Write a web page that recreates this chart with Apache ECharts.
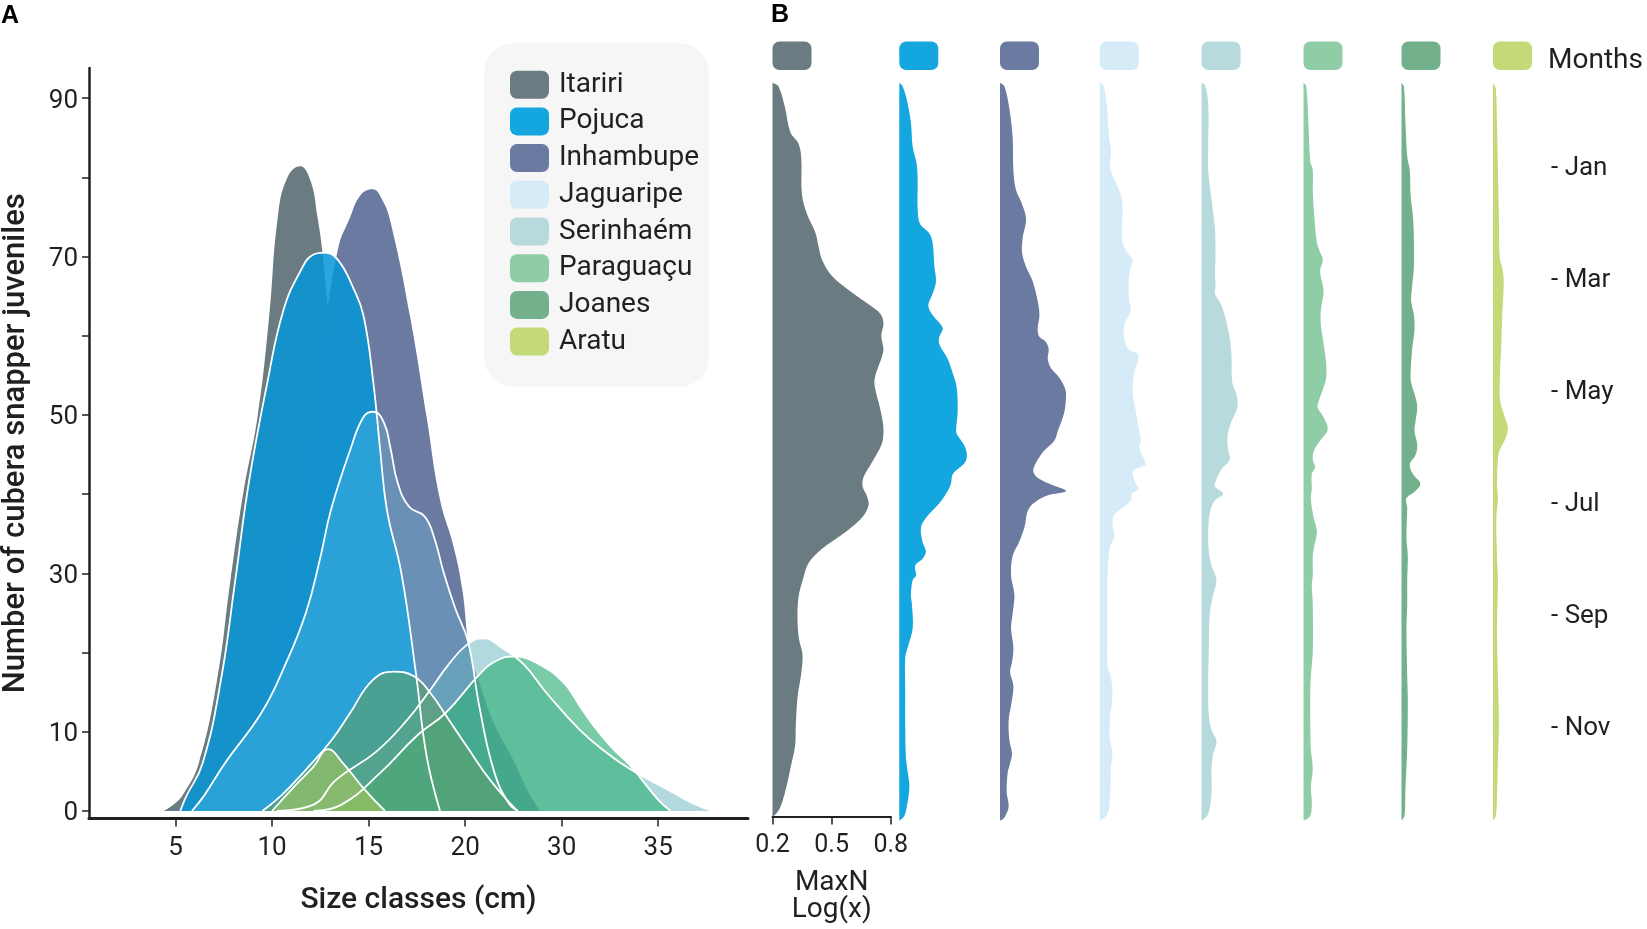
<!DOCTYPE html>
<html>
<head>
<meta charset="utf-8">
<script src="https://cdn.jsdelivr.net/npm/echarts@6/dist/echarts.min.js"></script>
<style>
  html, body { margin: 0; padding: 0; background: #fff; }
  #chart { width: 1647px; height: 929px; }
</style>
</head>
<body>
<div id="chart"></div>
<script>
// ---- data ----
const sites = ['Itariri', 'Pojuca', 'Inhambupe', 'Jaguaripe', 'Serinhaém', 'Paraguaçu', 'Joanes', 'Aratu'];
const siteColors = ['#6b7b82', '#14a6df', '#6b7aa0', '#d5ebf8', '#b7dadd', '#8ecda5', '#73b08c', '#c4d977'];

// panel A: size classes (position index on the axis) vs number of juveniles
const sizeTicks = ['5', '10', '15', '20', '30', '35'];
const sizePos = [1, 2, 3, 4, 5, 6];
const countLabels = [0, 10, 30, 50, 70, 90];
const countTicks = [0, 10, 20, 30, 40, 50, 60, 70, 80, 90];

const itariri = [[0.88, 0], [1.0, 1.0], [1.09, 2.3], [1.24, 6], [1.43, 16.5], [1.57, 29.2], [1.7, 40], [1.85, 49.8], [1.97, 62.4], [2.06, 75], [2.16, 80], [2.29, 81.4], [2.4, 79.5], [2.47, 75], [2.52, 70.8], [2.57, 64.5], [2.68, 50], [2.85, 32], [3.05, 16], [3.3, 5], [3.6, 0]];
const inhambupe = [[0.9, 0], [1.2, 1], [1.5, 3], [1.75, 8], [2.0, 20.7], [2.3, 41], [2.5, 57], [2.68, 70.8], [2.81, 75], [2.92, 77.8], [3.04, 78.5], [3.14, 77.2], [3.23, 74.2], [3.43, 62.4], [3.6, 49.8], [3.74, 39.3], [3.88, 33.4], [3.97, 28], [4.05, 20], [4.16, 15.7], [4.3, 11], [4.5, 6.4], [4.65, 2.5], [4.78, 0]];
const pojuca = [[1.05, 0], [1.11, 1.8], [1.28, 6], [1.47, 16.5], [1.62, 29.2], [1.76, 41.5], [1.95, 54], [2.12, 63.3], [2.3, 68.3], [2.42, 70.2], [2.54, 70.5], [2.68, 69.6], [2.85, 65.8], [2.95, 62.4], [3.05, 54], [3.12, 45.6], [3.19, 38], [3.34, 30], [3.49, 17.4], [3.6, 7], [3.74, 0]];
const jaguaripe = [[1.17, 0], [1.3, 2], [1.51, 6], [1.89, 12.4], [2.12, 18], [2.35, 25], [2.5, 32], [2.61, 38], [2.81, 45.6], [2.95, 49.8], [3.05, 50.4], [3.16, 49], [3.23, 45.6], [3.3, 41.5], [3.42, 38.4], [3.58, 37.2], [3.68, 34.5], [3.78, 30], [3.9, 25.5], [4.03, 21.4], [4.15, 13], [4.3, 5], [4.45, 1], [4.55, 0]];
const serinhaem = [[2.05, 0], [2.43, 0.8], [2.66, 3.9], [3.08, 7.5], [3.4, 11.5], [3.64, 15.3], [3.81, 18.2], [4.02, 21], [4.19, 21.8], [4.37, 20.7], [4.6, 18.6], [4.85, 14.8], [5.19, 10.2], [5.45, 7.5], [5.72, 5.2], [6.1, 2.7], [6.35, 1], [6.56, 0]];
const paraguacu = [[2.43, 0], [2.72, 0.8], [3.12, 4.8], [3.5, 9.5], [3.8, 12.4], [4.16, 17.4], [4.33, 19], [4.5, 19.5], [4.74, 18.7], [5.02, 16.2], [5.19, 13.2], [5.34, 10.6], [5.52, 8], [5.72, 5.6], [6.0, 1.4], [6.13, 0]];
const joanes = [[1.9, 0], [2.1, 2], [2.35, 5.2], [2.62, 9], [2.81, 12.4], [3.04, 16.5], [3.26, 17.6], [3.47, 17], [3.64, 14.9], [3.81, 11.9], [4.02, 8.1], [4.26, 3.9], [4.54, 0]];
const aratu = [[2.0, 0], [2.2, 2.7], [2.43, 5.6], [2.58, 7.8], [2.73, 6.1], [2.96, 2.7], [3.17, 0]];

// panel B: [month, MaxN log(x)] profile of each site
const monthTicks = [1, 3, 5, 7, 9, 11];
const monthNames = ['Jan', 'Mar', 'May', 'Jul', 'Sep', 'Nov'];
const maxnTicks = [0.2, 0.5, 0.8];

const vItariri = [[-0.47, 0.2], [-0.41, 0.23], [-0.02, 0.264], [0.41, 0.29], [0.62, 0.332], [0.88, 0.346], [1.52, 0.349], [1.87, 0.374], [2.21, 0.417], [2.47, 0.434], [2.69, 0.45], [2.99, 0.501], [3.29, 0.603], [3.5, 0.687], [3.67, 0.747], [3.85, 0.763], [4.06, 0.752], [4.32, 0.763], [4.79, 0.721], [4.96, 0.718], [5.39, 0.747], [5.74, 0.763], [6.0, 0.755], [6.34, 0.704], [6.6, 0.662], [6.77, 0.657], [6.94, 0.679], [7.11, 0.687], [7.33, 0.653], [7.59, 0.569], [7.89, 0.45], [8.14, 0.383], [8.4, 0.357], [8.75, 0.332], [9.18, 0.327], [9.52, 0.335], [9.78, 0.352], [10.12, 0.346], [10.55, 0.327], [11.07, 0.318], [11.41, 0.315], [11.76, 0.295], [12.19, 0.268], [12.53, 0.239], [12.66, 0.214], [12.69, 0.2]];
const vPojuca = [[-0.47, 0.2], [-0.41, 0.217], [-0.11, 0.242], [0.24, 0.259], [0.67, 0.268], [0.97, 0.288], [1.27, 0.293], [1.78, 0.293], [2.04, 0.305], [2.21, 0.352], [2.38, 0.369], [2.81, 0.378], [3.07, 0.386], [3.29, 0.369], [3.5, 0.347], [3.67, 0.369], [3.85, 0.412], [3.93, 0.42], [4.06, 0.403], [4.19, 0.403], [4.45, 0.445], [4.71, 0.471], [4.96, 0.491], [5.39, 0.496], [5.74, 0.488], [5.82, 0.496], [6.0, 0.53], [6.17, 0.543], [6.3, 0.533], [6.51, 0.471], [6.68, 0.462], [6.86, 0.437], [7.03, 0.403], [7.29, 0.335], [7.46, 0.31], [7.72, 0.318], [7.89, 0.335], [8.02, 0.318], [8.14, 0.281], [8.32, 0.285], [8.4, 0.268], [8.66, 0.259], [8.83, 0.264], [9.26, 0.268], [9.61, 0.242], [9.78, 0.23], [10.38, 0.23], [10.98, 0.23], [11.58, 0.234], [11.93, 0.247], [12.1, 0.251], [12.36, 0.242], [12.61, 0.225], [12.69, 0.2]];
const vInhambupe = [[-0.47, 0.2], [-0.41, 0.222], [-0.02, 0.247], [0.49, 0.264], [1.09, 0.268], [1.44, 0.281], [1.65, 0.307], [1.95, 0.332], [2.3, 0.315], [2.56, 0.312], [2.81, 0.332], [3.07, 0.366], [3.42, 0.391], [3.67, 0.4], [3.93, 0.391], [4.06, 0.4], [4.15, 0.433], [4.28, 0.447], [4.45, 0.442], [4.62, 0.459], [4.79, 0.501], [5.05, 0.535], [5.39, 0.527], [5.74, 0.493], [5.91, 0.476], [6.12, 0.417], [6.42, 0.369], [6.55, 0.383], [6.68, 0.45], [6.81, 0.535], [6.9, 0.433], [7.11, 0.349], [7.46, 0.324], [7.71, 0.298], [7.97, 0.264], [8.32, 0.256], [8.66, 0.273], [9.0, 0.264], [9.26, 0.256], [9.61, 0.268], [9.86, 0.261], [10.04, 0.251], [10.29, 0.268], [10.64, 0.256], [10.9, 0.244], [11.24, 0.247], [11.5, 0.261], [11.67, 0.251], [11.84, 0.239], [12.19, 0.234], [12.44, 0.244], [12.64, 0.222], [12.69, 0.2]];
const vJaguaripe = [[-0.47, 0.2], [-0.44, 0.217], [-0.11, 0.234], [0.49, 0.247], [0.75, 0.256], [1.01, 0.251], [1.18, 0.264], [1.44, 0.298], [1.7, 0.315], [2.13, 0.312], [2.38, 0.315], [2.56, 0.34], [2.69, 0.366], [2.81, 0.357], [3.07, 0.346], [3.42, 0.349], [3.59, 0.357], [3.85, 0.324], [4.1, 0.324], [4.28, 0.346], [4.36, 0.391], [4.45, 0.396], [4.71, 0.374], [5.05, 0.366], [5.39, 0.383], [5.74, 0.4], [5.91, 0.408], [6.04, 0.4], [6.25, 0.425], [6.34, 0.433], [6.42, 0.379], [6.51, 0.366], [6.68, 0.383], [6.77, 0.396], [6.86, 0.362], [6.98, 0.357], [7.11, 0.315], [7.24, 0.273], [7.37, 0.264], [7.63, 0.273], [7.76, 0.256], [7.89, 0.247], [8.4, 0.239], [9.26, 0.239], [9.95, 0.239], [10.12, 0.256], [10.47, 0.264], [10.9, 0.251], [11.24, 0.251], [11.5, 0.264], [11.76, 0.256], [12.27, 0.252], [12.57, 0.239], [12.69, 0.2]];
const vSerinhaem = [[-0.47, 0.2], [-0.44, 0.217], [-0.11, 0.234], [0.67, 0.234], [1.09, 0.234], [1.61, 0.251], [2.13, 0.268], [2.64, 0.271], [2.9, 0.268], [3.16, 0.271], [3.29, 0.268], [3.5, 0.302], [3.93, 0.335], [4.36, 0.352], [4.88, 0.356], [5.09, 0.378], [5.31, 0.383], [5.57, 0.352], [5.82, 0.332], [6.08, 0.335], [6.25, 0.344], [6.42, 0.302], [6.6, 0.276], [6.73, 0.268], [6.86, 0.31], [6.98, 0.268], [7.2, 0.242], [7.54, 0.234], [7.89, 0.237], [8.14, 0.251], [8.4, 0.276], [8.66, 0.259], [9.0, 0.242], [9.69, 0.237], [10.21, 0.234], [10.81, 0.237], [11.07, 0.251], [11.28, 0.276], [11.5, 0.259], [11.76, 0.251], [12.19, 0.251], [12.57, 0.234], [12.69, 0.2]];
const vParaguacu = [[-0.47, 0.2], [-0.41, 0.214], [0.24, 0.225], [0.92, 0.234], [1.09, 0.247], [1.44, 0.247], [1.87, 0.254], [2.38, 0.268], [2.56, 0.285], [2.69, 0.298], [2.86, 0.285], [2.99, 0.288], [3.24, 0.302], [3.59, 0.288], [3.85, 0.288], [4.19, 0.302], [4.53, 0.315], [4.79, 0.315], [4.96, 0.302], [5.22, 0.276], [5.31, 0.271], [5.44, 0.293], [5.65, 0.322], [5.74, 0.322], [5.91, 0.285], [6.08, 0.254], [6.25, 0.247], [6.38, 0.259], [6.51, 0.242], [6.77, 0.242], [6.94, 0.237], [7.28, 0.251], [7.54, 0.268], [7.8, 0.254], [7.97, 0.247], [8.32, 0.247], [8.49, 0.242], [8.83, 0.247], [9.69, 0.247], [10.12, 0.237], [10.55, 0.234], [11.41, 0.237], [11.76, 0.247], [12.1, 0.237], [12.36, 0.242], [12.61, 0.234], [12.69, 0.2]];
const vJoanes = [[-0.47, 0.2], [-0.41, 0.212], [0.24, 0.22], [0.84, 0.229], [1.09, 0.242], [1.52, 0.246], [1.95, 0.259], [2.38, 0.263], [2.81, 0.263], [3.16, 0.254], [3.42, 0.249], [3.67, 0.263], [3.93, 0.266], [4.28, 0.254], [4.71, 0.246], [4.88, 0.249], [5.14, 0.271], [5.31, 0.28], [5.57, 0.271], [5.74, 0.266], [5.99, 0.28], [6.17, 0.271], [6.34, 0.242], [6.51, 0.259], [6.68, 0.296], [6.81, 0.271], [6.94, 0.225], [7.11, 0.229], [7.63, 0.225], [7.97, 0.232], [8.4, 0.229], [8.83, 0.229], [9.26, 0.225], [10.12, 0.229], [10.55, 0.232], [11.41, 0.229], [12.1, 0.22], [12.61, 0.215], [12.69, 0.2]];
const vAratu = [[-0.47, 0.2], [-0.37, 0.214], [0.24, 0.22], [1.09, 0.225], [1.95, 0.23], [2.64, 0.234], [2.9, 0.251], [3.16, 0.254], [3.67, 0.247], [4.19, 0.242], [4.88, 0.234], [5.22, 0.237], [5.48, 0.259], [5.69, 0.276], [5.87, 0.264], [6.08, 0.234], [6.25, 0.225], [6.68, 0.22], [6.94, 0.225], [7.28, 0.217], [7.97, 0.22], [8.4, 0.225], [9.26, 0.22], [10.12, 0.225], [10.98, 0.23], [11.58, 0.225], [12.27, 0.22], [12.61, 0.214], [12.69, 0.2]];

const violinData = [vItariri, vPojuca, vInhambupe, vJaguaripe, vSerinhaem, vParaguacu, vJoanes, vAratu];

// ---- layout / style ----
const FONT = 'Roboto';
const INK = '#231f20';
// draw order for panel A (back to front), with fills that let lower curves show through
const densityLayers = [
    { site: 'Itariri', data: itariri, fill: 'rgba(107,123,130,1)', outline: false },
    { site: 'Inhambupe', data: inhambupe, fill: 'rgba(107,122,160,1)', outline: false },
    { site: 'Pojuca', data: pojuca, fill: 'rgba(5,150,214,0.85)', outline: true },
    { site: 'Jaguaripe', data: jaguaripe, fill: 'rgba(110,208,248,0.26)', outline: true },
    { site: 'Serinhaém', data: serinhaem, fill: 'rgba(100,180,190,0.5)', outline: true },
    { site: 'Paraguaçu', data: paraguacu, fill: 'rgba(50,175,120,0.65)', outline: true },
    { site: 'Joanes', data: joanes, fill: 'rgba(90,160,110,0.65)', outline: true },
    { site: 'Aratu', data: aratu, fill: 'rgba(170,200,90,0.6)', outline: true }
];
const violinLeft = [772.5, 899.3, 1000, 1099.8, 1201.5, 1303.5, 1401.5, 1493];
const violinWidth = 118.3;
const violinTop = 83;
const violinHeight = 737.5;
const monthMin = -0.47, monthMax = 12.69;

const chart = echarts.init(document.getElementById('chart'));

const grids = [{ left: 88, top: 68, width: 660, height: 750.5 }];
const xAxes = [{
    type: 'value', gridIndex: 0, min: 0.104, max: 6.93,
    axisLine: { onZero: false, lineStyle: { color: INK, width: 3 } },
    axisTick: { customValues: sizePos, length: 8, lineStyle: { color: INK, width: 1.5 } },
    axisLabel: {
        customValues: sizePos, margin: 17, fontSize: 26, fontFamily: FONT, color: INK,
        formatter: v => sizeTicks[sizePos.indexOf(v)]
    },
    splitLine: { show: false },
    name: 'Size classes (cm)', nameLocation: 'middle', nameGap: 67,
    nameTextStyle: { fontSize: 30, fontWeight: 500, fontFamily: FONT, color: INK }
}];
const yAxes = [{
    type: 'value', gridIndex: 0, min: -0.95, max: 93.8,
    axisLine: { show: true, onZero: false, lineStyle: { color: INK, width: 2.5 } },
    axisTick: { show: true, customValues: countTicks, length: 7, lineStyle: { color: INK, width: 1.5 } },
    axisLabel: {
        customValues: countLabels, margin: 11, fontSize: 26, fontFamily: FONT, color: INK,
        verticalAlign: 'top', lineHeight: 6
    },
    splitLine: { show: false },
    name: 'Number of cubera snapper juveniles', nameLocation: 'middle', nameGap: 57,
    nameTextStyle: { fontSize: 31, fontWeight: 500, fontFamily: FONT, color: INK }
}];

violinLeft.forEach((left, k) => {
    grids.push({ left: left, top: violinTop, width: violinWidth, height: violinHeight });
    const first = k === 0;
    xAxes.push({
        type: 'value', gridIndex: k + 1, min: 0.2, max: 0.8, show: first,
        axisLine: { onZero: false, lineStyle: { color: INK, width: 2 } },
        axisTick: { customValues: maxnTicks, length: 8, lineStyle: { color: INK, width: 1.5 } },
        axisLabel: { customValues: maxnTicks, margin: 17, fontSize: 25, fontFamily: FONT, color: INK },
        splitLine: { show: false },
        name: first ? 'MaxN\nLog(x)' : '', nameLocation: 'middle', nameGap: 53,
        nameTextStyle: { fontSize: 28, lineHeight: 27, fontFamily: FONT, color: INK }
    });
    yAxes.push({
        type: 'value', gridIndex: k + 1, min: monthMin, max: monthMax, inverse: true, show: false
    });
});

// month labels on the right
grids.push({ left: 1551, top: violinTop, width: 20, height: violinHeight });
xAxes.push({ type: 'value', gridIndex: 9, show: false });
yAxes.push({
    type: 'value', gridIndex: 9, min: monthMin, max: monthMax, inverse: true,
    axisLine: { show: false }, axisTick: { show: false }, splitLine: { show: false },
    axisLabel: {
        inside: true, margin: 0, customValues: monthTicks, fontSize: 26, fontFamily: FONT, color: INK,
        verticalAlign: 'top', lineHeight: 6,
        formatter: v => '- ' + monthNames[monthTicks.indexOf(v)]
    }
});

const densitySeries = densityLayers.map(layer => ({
    name: layer.site,
    type: 'line',
    xAxisIndex: 0, yAxisIndex: 0,
    data: layer.data,
    smooth: 0.45,
    showSymbol: false,
    silent: true,
    itemStyle: { color: siteColors[sites.indexOf(layer.site)] },
    lineStyle: { color: '#ffffff', width: layer.outline ? 1.8 : 0, opacity: layer.outline ? 1 : 0 },
    areaStyle: { color: layer.fill, opacity: 1, origin: 'auto' }
}));

const violinSeries = violinData.map((pts, k) => ({
    type: 'custom',
    xAxisIndex: k + 1, yAxisIndex: k + 1,
    data: pts,
    encode: { x: 1, y: 0 },
    silent: true,
    renderItem: function (params, api) {
        if (params.dataIndex !== 0) return null;
        const poly = pts.map(p => api.coord([p[1], p[0]]));
        // straight baseline back to the top
        for (let m = 12.4; m > -0.4; m -= 0.4) poly.push(api.coord([0.2, m]));
        const lo = [Infinity, Infinity], hi = [-Infinity, -Infinity];
        poly.forEach(p => {
            lo[0] = Math.min(lo[0], p[0]); lo[1] = Math.min(lo[1], p[1]);
            hi[0] = Math.max(hi[0], p[0]); hi[1] = Math.max(hi[1], p[1]);
        });
        return {
            type: 'polygon',
            shape: { points: poly, smooth: 0.35, smoothConstraint: [lo, hi] },
            style: { fill: siteColors[k] }
        };
    }
}));

const headerKeys = violinLeft.map((left, k) => ({
    type: 'rect', left: left, top: 41.5, silent: true,
    shape: { width: 39, height: 28.5, r: 7 },
    style: { fill: siteColors[k] }
}));

chart.setOption({
    backgroundColor: '#ffffff',
    animation: false,
    grid: grids,
    xAxis: xAxes,
    yAxis: yAxes,
    legend: {
        orient: 'vertical', left: 510, top: 70.7, padding: 0,
        itemWidth: 39, itemHeight: 28, itemGap: 8.7, icon: 'roundRect',
        selectedMode: false,
        itemStyle: { borderWidth: 0 },
        textStyle: { fontSize: 28, fontFamily: FONT, color: INK, padding: [4, 0, 0, 5] },
        data: sites.map((s, k) => ({ name: s, itemStyle: { color: siteColors[k], borderWidth: 0 } }))
    },
    graphic: [
        {
            type: 'rect', left: 484, top: 43, z: -10, silent: true,
            shape: { width: 225, height: 344, r: 30 },
            style: { fill: '#f5f6f5' }
        },
        { type: 'text', left: 1, top: 4, style: { text: 'A', font: 'bold 25px "Liberation Sans"', fill: '#000' } },
        { type: 'text', left: 771, top: 3, style: { text: 'B', font: 'bold 25px "Liberation Sans"', fill: '#000' } },
        { type: 'text', left: 1548, top: 47, style: { text: 'Months', font: '28px Roboto', fill: INK } },
        ...headerKeys
    ],
    series: densitySeries.concat(violinSeries)
});
</script>
</body>
</html>
